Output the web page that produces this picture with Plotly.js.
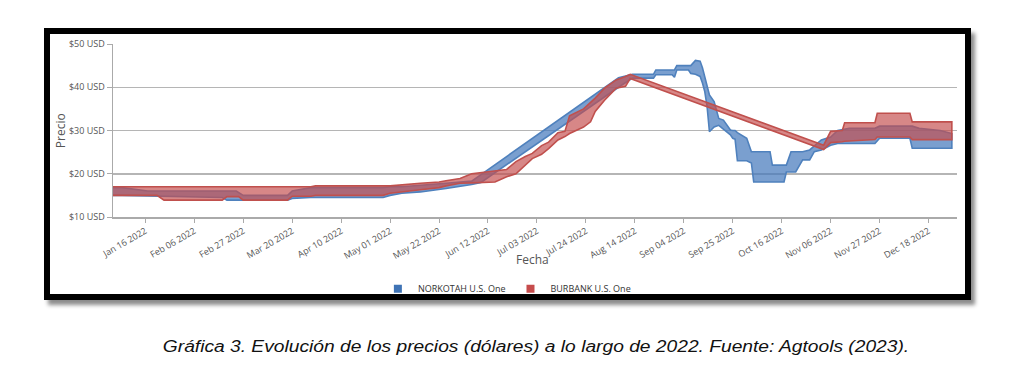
<!DOCTYPE html>
<html>
<head>
<meta charset="utf-8">
<script src="https://cdn.plot.ly/plotly-3.0.1.min.js"></script>
<style>
  html, body { margin:0; padding:0; background:#fff; width:1024px; height:376px; overflow:hidden; }
  #frame { position:absolute; left:44px; top:28px; width:915px; height:260px; border:6px solid #000; background:#fff;
           box-shadow: 4px 5px 4px rgba(0,0,0,0.45); }
  #chart { position:absolute; left:0; top:0; width:1024px; height:376px; }
  #caption { position:absolute; left:36px; width:1000px; top:338px; text-align:center;
             font-family:"Liberation Sans", Arial, sans-serif; font-style:italic; font-size:16px; color:#111;
             transform: scaleX(1.2); transform-origin: 500px 0; }
</style>
</head>
<body>
<div id="frame"></div>
<div id="chart"></div>
<div id="caption">Gráfica 3. Evolución de los precios (dólares) a lo largo de 2022. Fuente: Agtools (2023).</div>
<script>
// ---- Data ----
const norkotahName = 'NORKOTAH U.S. One';
const norkotahDates = ['2022-01-02','2022-01-06','2022-01-17','2022-01-24','2022-02-18','2022-02-20','2022-02-24','2022-02-27','2022-03-18','2022-03-20','2022-03-28','2022-04-28','2022-05-01','2022-05-06','2022-05-14','2022-05-25','2022-06-05','2022-06-09','2022-08-07','2022-08-13','2022-08-22','2022-08-23','2022-08-30','2022-08-31','2022-09-01','2022-09-06','2022-09-07','2022-09-09','2022-09-11','2022-09-12','2022-09-13','2022-09-14','2022-09-15','2022-09-17','2022-09-19','2022-09-21','2022-09-24','2022-09-25','2022-09-26','2022-09-27','2022-09-30','2022-10-01','2022-10-03','2022-10-04','2022-10-11','2022-10-12','2022-10-17','2022-10-18','2022-10-20','2022-10-22','2022-10-25','2022-10-28','2022-10-30','2022-11-02','2022-11-06','2022-11-09','2022-11-14','2022-11-25','2022-11-27','2022-12-10','2022-12-11','2022-12-14','2022-12-23','2022-12-28'];
const norkotahLow  = [15.0,15.0,15.0,14.8,14.5,13.9,13.9,13.9,13.9,14.3,14.5,14.5,15.0,15.5,15.8,16.6,17.5,18.0,40.0,42.1,42.1,42.9,42.9,42.3,44.0,44.0,43.2,43.0,42.5,41.0,39.0,35.5,29.7,30.8,31.2,30.3,29.0,28.2,28.0,23.0,23.0,23.0,22.5,18.1,18.1,18.1,18.1,20.4,20.4,20.4,23.2,23.2,25.1,25.5,26.6,27.0,27.0,27.0,28.2,28.2,25.9,25.9,25.9,25.9];
const norkotahHigh = [16.8,16.8,16.0,16.0,16.0,16.0,16.0,15.0,15.0,16.0,16.8,16.8,17.0,17.0,17.3,17.8,18.3,19.8,42.2,43.0,43.0,44.0,44.0,44.0,45.0,45.0,45.0,46.2,46.0,44.5,42.5,40.2,38.2,36.7,32.8,32.4,30.1,30.0,30.0,29.5,28.5,28.2,25.1,25.1,25.1,22.0,22.0,22.0,25.1,25.1,25.1,25.5,26.5,27.8,28.5,30.0,30.5,30.5,31.0,31.0,31.0,30.5,30.0,29.3];

const burbankName = 'BURBANK U.S. One';
const burbankDates = ['2022-01-02','2022-01-21','2022-01-24','2022-02-18','2022-02-20','2022-02-25','2022-02-27','2022-03-18','2022-03-20','2022-03-28','2022-03-30','2022-04-28','2022-05-01','2022-05-14','2022-05-22','2022-05-25','2022-05-31','2022-06-05','2022-06-15','2022-06-20','2022-06-24','2022-06-28','2022-07-01','2022-07-05','2022-07-08','2022-07-12','2022-07-15','2022-07-17','2022-07-23','2022-07-26','2022-07-28','2022-08-01','2022-08-03','2022-08-06','2022-08-10','2022-08-12','2022-11-03','2022-11-06','2022-11-11','2022-11-12','2022-11-25','2022-11-26','2022-12-10','2022-12-11','2022-12-28'];
const burbankLow  = [15.0,15.0,13.9,13.9,14.7,14.7,13.9,13.9,14.8,14.8,15.0,15.0,15.5,16.3,16.8,17.2,17.8,17.9,18.1,19.3,20.0,22.0,23.5,24.5,25.8,27.8,28.6,29.3,30.8,32.0,34.4,37.0,38.2,39.8,40.2,42.0,25.6,27.2,27.4,27.5,27.9,28.5,28.5,27.9,27.9];
const burbankHigh = [17.0,17.0,17.0,17.0,17.0,17.0,17.0,17.0,17.0,17.0,17.2,17.2,17.2,17.8,18.1,18.4,18.9,20.0,20.6,21.0,22.8,24.0,24.7,26.5,27.3,29.5,29.8,33.4,35.0,36.5,37.5,39.8,40.5,41.7,42.5,43.0,26.6,29.8,30.0,31.8,31.8,34.0,34.0,32.0,32.0];

const yTickVals = [10, 20, 30, 40, 50];
const yTickLabels = ['$10 USD', '$20 USD', '$30 USD', '$40 USD', '$50 USD'];
const xTickStart = '2022-01-16';
const xTickDays = 21;
const xTitle = 'Fecha';
const yTitle = 'Precio';

// ---- Build band polygons ----
function band(name, dates, low, high, fill, line) {
  return {
    type: 'scatter', mode: 'lines', name: name, showlegend: false,
    x: dates.concat(dates.slice().reverse()),
    y: high.concat(low.slice().reverse()),
    fill: 'toself', fillcolor: fill,
    line: { color: line, width: 1.6 },
    hoverinfo: 'skip'
  };
}
function legendItem(name, color) {
  return { type: 'scatter', mode: 'markers', name: name, x: [null], y: [null],
           marker: { symbol: 'square', size: 8, color: color, line: { width: 0 } } };
}
const blueFill = 'rgba(70,122,189,0.72)', blueLine = '#4f81bd';
const redFill = 'rgba(196,78,78,0.68)', redLine = '#c0504d';
const traces = [
  band(norkotahName, norkotahDates, norkotahLow, norkotahHigh, blueFill, blueLine),
  band(burbankName, burbankDates, burbankLow, burbankHigh, redFill, redLine),
  legendItem(norkotahName, '#3f73b5'),
  legendItem(burbankName, '#c64c4c')
];

const font = '"Open Sans", "Noto Sans", sans-serif';
const layout = {
  width: 1024, height: 376,
  margin: { l: 113, r: 67, t: 44, b: 159 },
  paper_bgcolor: 'rgba(0,0,0,0)', plot_bgcolor: 'rgba(0,0,0,0)',
  font: { family: font, color: '#555', size: 9 },
  showlegend: true,
  legend: { orientation: 'h', xref: 'container', yref: 'container', x: 0.495, y: 0.232,
            xanchor: 'center', yanchor: 'middle', font: { size: 9, color: '#333' },
            itemwidth: 30, traceorder: 'normal' },
  xaxis: {
    type: 'date', range: ['2022-01-02 03:00', '2022-12-30 05:00'],
    tick0: xTickStart, dtick: xTickDays * 86400000, tickformat: '%b %d %Y',
    tickangle: -30, tickfont: { size: 9, color: '#555' },
    ticks: 'outside', ticklen: 4, tickcolor: '#aaa',
    showgrid: false, showline: true, linecolor: '#aaa', linewidth: 1.5
  },
  yaxis: {
    range: [10, 50], tickvals: yTickVals, ticktext: yTickLabels,
    tickfont: { size: 9, color: '#555' },
    ticks: 'outside', ticklen: 5, tickcolor: '#aaa',
    showgrid: true, gridcolor: '#b5b5b5', gridwidth: 1.5, zeroline: false,
    showline: true, linecolor: '#aaa', linewidth: 1.5
  },
  annotations: [
    { text: xTitle, xref: 'paper', yref: 'paper', x: 0.4976, y: -0.243, showarrow: false,
      xanchor: 'center', yanchor: 'middle', font: { size: 12, color: '#555' } },
    { text: yTitle, xref: 'paper', yref: 'paper', x: -0.062, y: 0.5, showarrow: false, textangle: -90,
      xanchor: 'center', yanchor: 'middle', font: { size: 12, color: '#555' } }
  ]
};
Plotly.newPlot('chart', traces, layout, { displayModeBar: false, staticPlot: true });
</script>
</body>
</html>
